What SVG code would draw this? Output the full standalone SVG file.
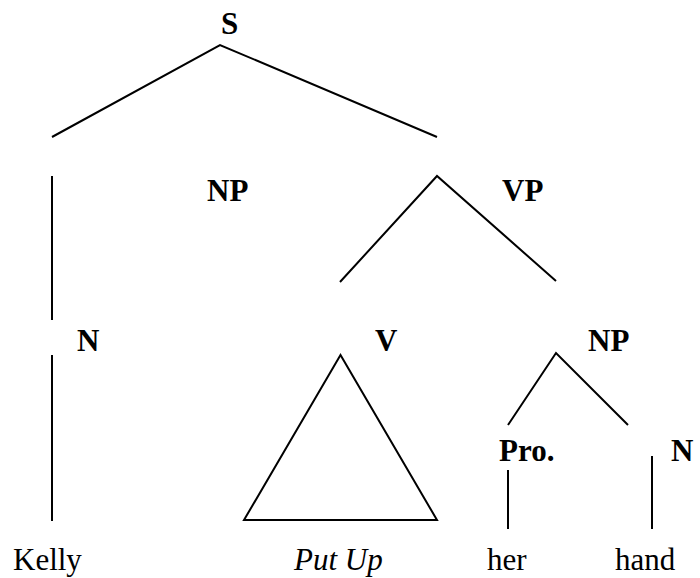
<svg xmlns="http://www.w3.org/2000/svg" width="700" height="578" viewBox="0 0 700 578">
<style>
.lab{font-family:"Liberation Serif","Times New Roman",serif;font-size:31px;font-weight:bold;fill:#000}
.word{font-family:"Liberation Serif","Times New Roman",serif;font-size:31px;fill:#000}
.it{font-style:italic}
.edge{stroke:#000;stroke-width:2;fill:none}
</style>
<rect width="700" height="578" fill="#fff"/>
<g id="connectors">
<polyline class="edge" points="52,137 220,45 437,137"/>
<line class="edge" x1="52" y1="176" x2="52" y2="320"/>
<line class="edge" x1="52" y1="355" x2="52" y2="521"/>
<polyline class="edge" points="340,282 437,176 556,281"/>
<polygon class="edge" points="340.5,355 244,520 437,520"/>
<polyline class="edge" points="508,425 556,353 628,425"/>
<line class="edge" x1="508" y1="470" x2="508" y2="529"/>
<line class="edge" x1="652" y1="456" x2="652" y2="529"/>
</g>
<g id="node-S"><text class="lab" x="221" y="34">S</text></g>
<g id="node-NP1"><text class="lab" x="207" y="201">NP</text></g>
<g id="node-VP"><text class="lab" x="502" y="201">VP</text></g>
<g id="node-N1"><text class="lab" x="77" y="351">N</text></g>
<g id="node-V"><text class="lab" x="375" y="351">V</text></g>
<g id="node-NP2"><text class="lab" x="588" y="351">NP</text></g>
<g id="node-Pro"><text class="lab" x="499" y="461">Pro.</text></g>
<g id="node-N2"><text class="lab" x="671" y="461">N</text></g>
<g id="node-Kelly"><text class="word" x="13" y="570">Kelly</text></g>
<g id="node-PutUp"><text class="word it" x="294" y="570">Put Up</text></g>
<g id="node-her"><text class="word" x="487" y="570">her</text></g>
<g id="node-hand"><text class="word" x="615" y="570">hand</text></g>
</svg>
